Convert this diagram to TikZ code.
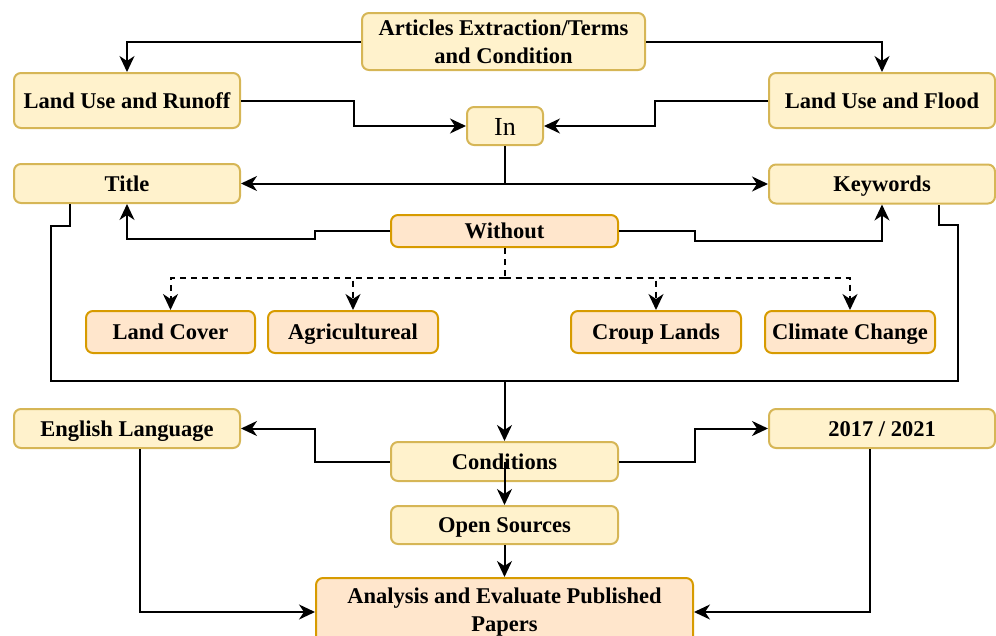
\documentclass[tikz,border=0pt]{standalone}
\usepackage{fontspec}
\setmainfont{Liberation Serif}
\usetikzlibrary{arrows.meta}
\definecolor{yfill}{HTML}{FFF2CC}
\definecolor{ydraw}{HTML}{D6B656}
\definecolor{ofill}{HTML}{FFE6CC}
\definecolor{odraw}{HTML}{D79B00}
\tikzset{
  ybox/.style={draw=ydraw, fill=yfill, line width=2pt, rounded corners=7pt, inner sep=0pt, align=center,
    font=\fontsize{22.5}{28}\selectfont\bfseries},
  oneline/.style={text height=19pt, text depth=4pt},
  obox/.style={ybox, draw=odraw, fill=ofill},
  arr/.style={line width=2pt, -{Stealth[length=16pt,width=15pt,inset=5pt]}},
  conn/.style={line width=2pt},
  dasharr/.style={arr, dash pattern=on 6pt off 5pt},
  dashln/.style={conn, dash pattern=on 6pt off 5pt}
}
\begin{document}
\begin{tikzpicture}[x=1pt, y=-1pt]
\useasboundingbox (0,0) rectangle (996,635);
% nodes
\node[ybox, minimum width=283pt, minimum height=57pt] (art) at (503.5,41.5) {Articles Extraction/Terms\\and Condition};
\node[ybox, oneline, minimum width=226pt, minimum height=55pt] (runoff) at (127,100.5) {Land Use and Runoff};
\node[ybox, oneline, minimum width=226pt, minimum height=55pt] (flood) at (882,100.5) {Land Use and Flood};
\node[ybox, minimum width=76pt, minimum height=38pt, text height=21pt, text depth=3pt, font=\fontsize{26}{30}\selectfont] (in) at (505,126) {In};
\node[ybox, oneline, minimum width=226pt, minimum height=39pt] (title) at (127,183.5) {Title};
\node[ybox, oneline, minimum width=226pt, minimum height=39pt] (kw) at (882,184) {Keywords};
\node[obox, oneline, minimum width=227pt, minimum height=32pt] (without) at (504.5,231) {Without};
\node[obox, oneline, minimum width=169pt, minimum height=42pt] (lc) at (170.5,332) {Land Cover};
\node[obox, oneline, minimum width=170pt, minimum height=42pt] (ag) at (353,332) {Agricultureal};
\node[obox, oneline, minimum width=170pt, minimum height=42pt] (cl) at (656,332) {Croup Lands};
\node[obox, oneline, minimum width=170pt, minimum height=42pt] (cc) at (850,332) {Climate Change};
\node[ybox, oneline, minimum width=226pt, minimum height=39pt] (eng) at (127,428.5) {English Language};
\node[ybox, oneline, minimum width=226pt, minimum height=39pt] (yr) at (882,428.5) {2017 / 2021};
\node[ybox, oneline, minimum width=227pt, minimum height=39pt] (cond) at (504.5,461.5) {Conditions};
\node[ybox, oneline, minimum width=227pt, minimum height=38pt] (open) at (504.5,525) {Open Sources};
\node[obox, minimum width=377pt, minimum height=68pt] (ana) at (504.5,612) {Analysis and Evaluate Published\\Papers};
% helper coordinates
\coordinate (loopL) at (51,381);
\coordinate (loopR) at (958,381);
% connectors
\draw[arr] (art.west) -| (runoff.north);
\draw[arr] (art.east) -| (flood.north);
\draw[arr] (runoff.east) -- ++(113,0) |- (in.west);
\draw[arr] (flood.west) -- ++(-113,0) |- (in.east);
\draw[arr] (in.south) |- (title.east);
\draw[arr] (in.south) |- (kw.west);
\draw[arr] (without.west) -- ++(-75,0) -- ++(0,8) -| (title.south);
\draw[arr] (without.east) -- ++(76,0) -- ++(0,10) -| (kw.south);
\draw[dashln] (without.south) -- ++(0,30) coordinate (dj);
\draw[dasharr] (dj) -| (lc.north);
\draw[dasharr] (dj) -| (ag.north);
\draw[dasharr] (dj) -| (cl.north);
\draw[dasharr] (dj) -| (cc.north);
\draw[conn] ([xshift=-57pt]title.south) -- ++(0,22) -| (loopL) -- (loopR) |- ([xshift=57pt,yshift=-20pt]kw.south) -- ([xshift=57pt]kw.south);
\draw[arr] (cond.north |- loopL) -- (cond.north);
\draw[arr] (cond.west) -- ++(-75,0) |- (eng.east);
\draw[arr] (cond.east) -- ++(76,0) |- (yr.west);
\draw[arr] (cond.center) -- (open.north);
\draw[arr] (open.south) -- (ana.north);
\draw[arr] ([xshift=13pt]eng.south) |- (ana.west);
\draw[arr] ([xshift=-12pt]yr.south) |- (ana.east);
\end{tikzpicture}
\end{document}
